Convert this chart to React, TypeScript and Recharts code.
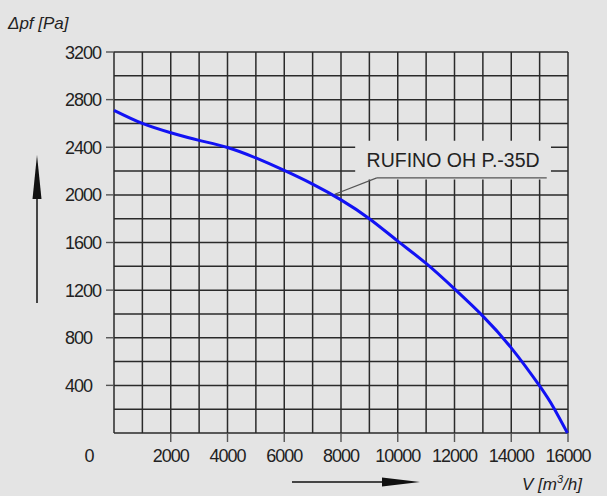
import React from "react";
import {
  LineChart,
  Line,
  XAxis,
  YAxis,
  CartesianGrid,
  ReferenceArea,
  ReferenceLine,
} from "recharts";

// fan curve
const flow = [0, 1000, 2000, 3000, 4000, 5000, 6000, 7000, 8000, 9000, 10000, 11000, 12000, 13000, 14000, 15000, 15500, 15980];
const pressure = [2710, 2600, 2522, 2458, 2398, 2310, 2205, 2090, 1958, 1800, 1612, 1424, 1210, 982, 715, 395, 210, 0];

const xTicks = [0, 2000, 4000, 6000, 8000, 10000, 12000, 14000, 16000];
const yTicks = [400, 800, 1200, 1600, 2000, 2400, 2800, 3200];
const xGrid = [0, 1000, 2000, 3000, 4000, 5000, 6000, 7000, 8000, 9000, 10000, 11000, 12000, 13000, 14000, 15000, 16000];
const yGrid = [0, 200, 400, 600, 800, 1000, 1200, 1400, 1600, 1800, 2000, 2200, 2400, 2600, 2800, 3000, 3200];

const seriesName = "RUFINO OH P.-35D";

const BG = "#e4e4e4";
const INK = "#222";
const FONT = "'Liberation Sans', Arial, sans-serif";

const data = flow.map((v, i) => ({ v, p: pressure[i] }));

const XTick = (props: any) => {
  const { x, y, payload } = props;
  const isZero = payload.value === 0;
  return (
    <g>
      {!isZero && <line x1={x} x2={x} y1={y} y2={y + 9} stroke="#555" strokeWidth={1.4} />}
      <text
        x={isZero ? x - 25 : x}
        y={y + 29}
        textAnchor="middle"
        fill={INK}
        fontSize={18}
        letterSpacing={-1}
        fontFamily={FONT}
      >
        {payload.value}
      </text>
    </g>
  );
};

const YTick = (props: any) => {
  const { x, y, payload } = props;
  return (
    <g>
      <line x1={x - 8} x2={x} y1={y} y2={y} stroke="#555" strokeWidth={1.4} />
      <text x={x - 49} y={y + 6.5} textAnchor="start" fill={INK} fontSize={18} letterSpacing={-1} fontFamily={FONT}>
        {payload.value}
      </text>
    </g>
  );
};

export default function App() {
  return (
    <div style={{ position: "fixed", left: 0, top: 0, width: 607, height: 496, background: BG }}>
      <LineChart width={607} height={496} data={data} margin={{ top: 52, right: 39, bottom: 33, left: 54 }}>
        <CartesianGrid
          stroke="#2a2a2a"
          strokeWidth={1.5}
          horizontalValues={yGrid}
          verticalValues={xGrid}
        />
        <XAxis
          dataKey="v"
          type="number"
          domain={[0, 16000]}
          ticks={xTicks}
          axisLine={false}
          tickLine={false}
          tickSize={0}
          tickMargin={0}
          height={30}
          tick={<XTick />}
          interval={0}
        />
        <YAxis
          type="number"
          domain={[0, 3200]}
          ticks={yTicks}
          axisLine={false}
          tickLine={false}
          tickSize={0}
          tickMargin={0}
          width={60}
          tick={<YTick />}
          interval={0}
        />
        <ReferenceArea
          x1={8500}
          x2={15400}
          y1={2130}
          y2={2455}
          fill={BG}
          fillOpacity={1}
          stroke="none"
          ifOverflow="visible"
          label={{ value: seriesName, position: "center", fill: INK, fontSize: 19.5, fontFamily: FONT }}
        />
        <ReferenceLine
          segment={[{ x: 7780, y: 2005 }, { x: 9260, y: 2143 }]}
          stroke="#555"
          strokeWidth={1.2}
          ifOverflow="visible"
        />
        <ReferenceLine
          segment={[{ x: 9260, y: 2143 }, { x: 15250, y: 2143 }]}
          stroke="#555"
          strokeWidth={1.2}
          ifOverflow="visible"
        />
        <Line
          type="natural"
          dataKey="p"
          stroke="#1212f4"
          strokeWidth={3}
          dot={false}
          isAnimationActive={false}
        />
      </LineChart>
      <svg
        width={607}
        height={496}
        style={{ position: "absolute", left: 0, top: 0, pointerEvents: "none" }}
      >
        <text x={8} y={29} fontSize={17} fontStyle="italic" fill={INK} fontFamily={FONT}>
          Δpf [Pa]
        </text>
        <text x={522} y={490} fontSize={17} fontStyle="italic" fill={INK} fontFamily={FONT}>
          V [m
          <tspan fontSize={11} dy={-7}>3</tspan>
          <tspan dy={7}>/h]</tspan>
        </text>
        {/* axis direction arrows */}
        <line x1={37} x2={37} y1={303} y2={190} stroke="#111" strokeWidth={1.5} />
        <polygon points="37,155 32.5,199 41.5,199" fill="#111" />
        <line x1={292} x2={386} y1={482} y2={482} stroke="#111" strokeWidth={1.5} />
        <polygon points="420,482 382,477.5 382,486.5" fill="#111" />
      </svg>
    </div>
  );
}
